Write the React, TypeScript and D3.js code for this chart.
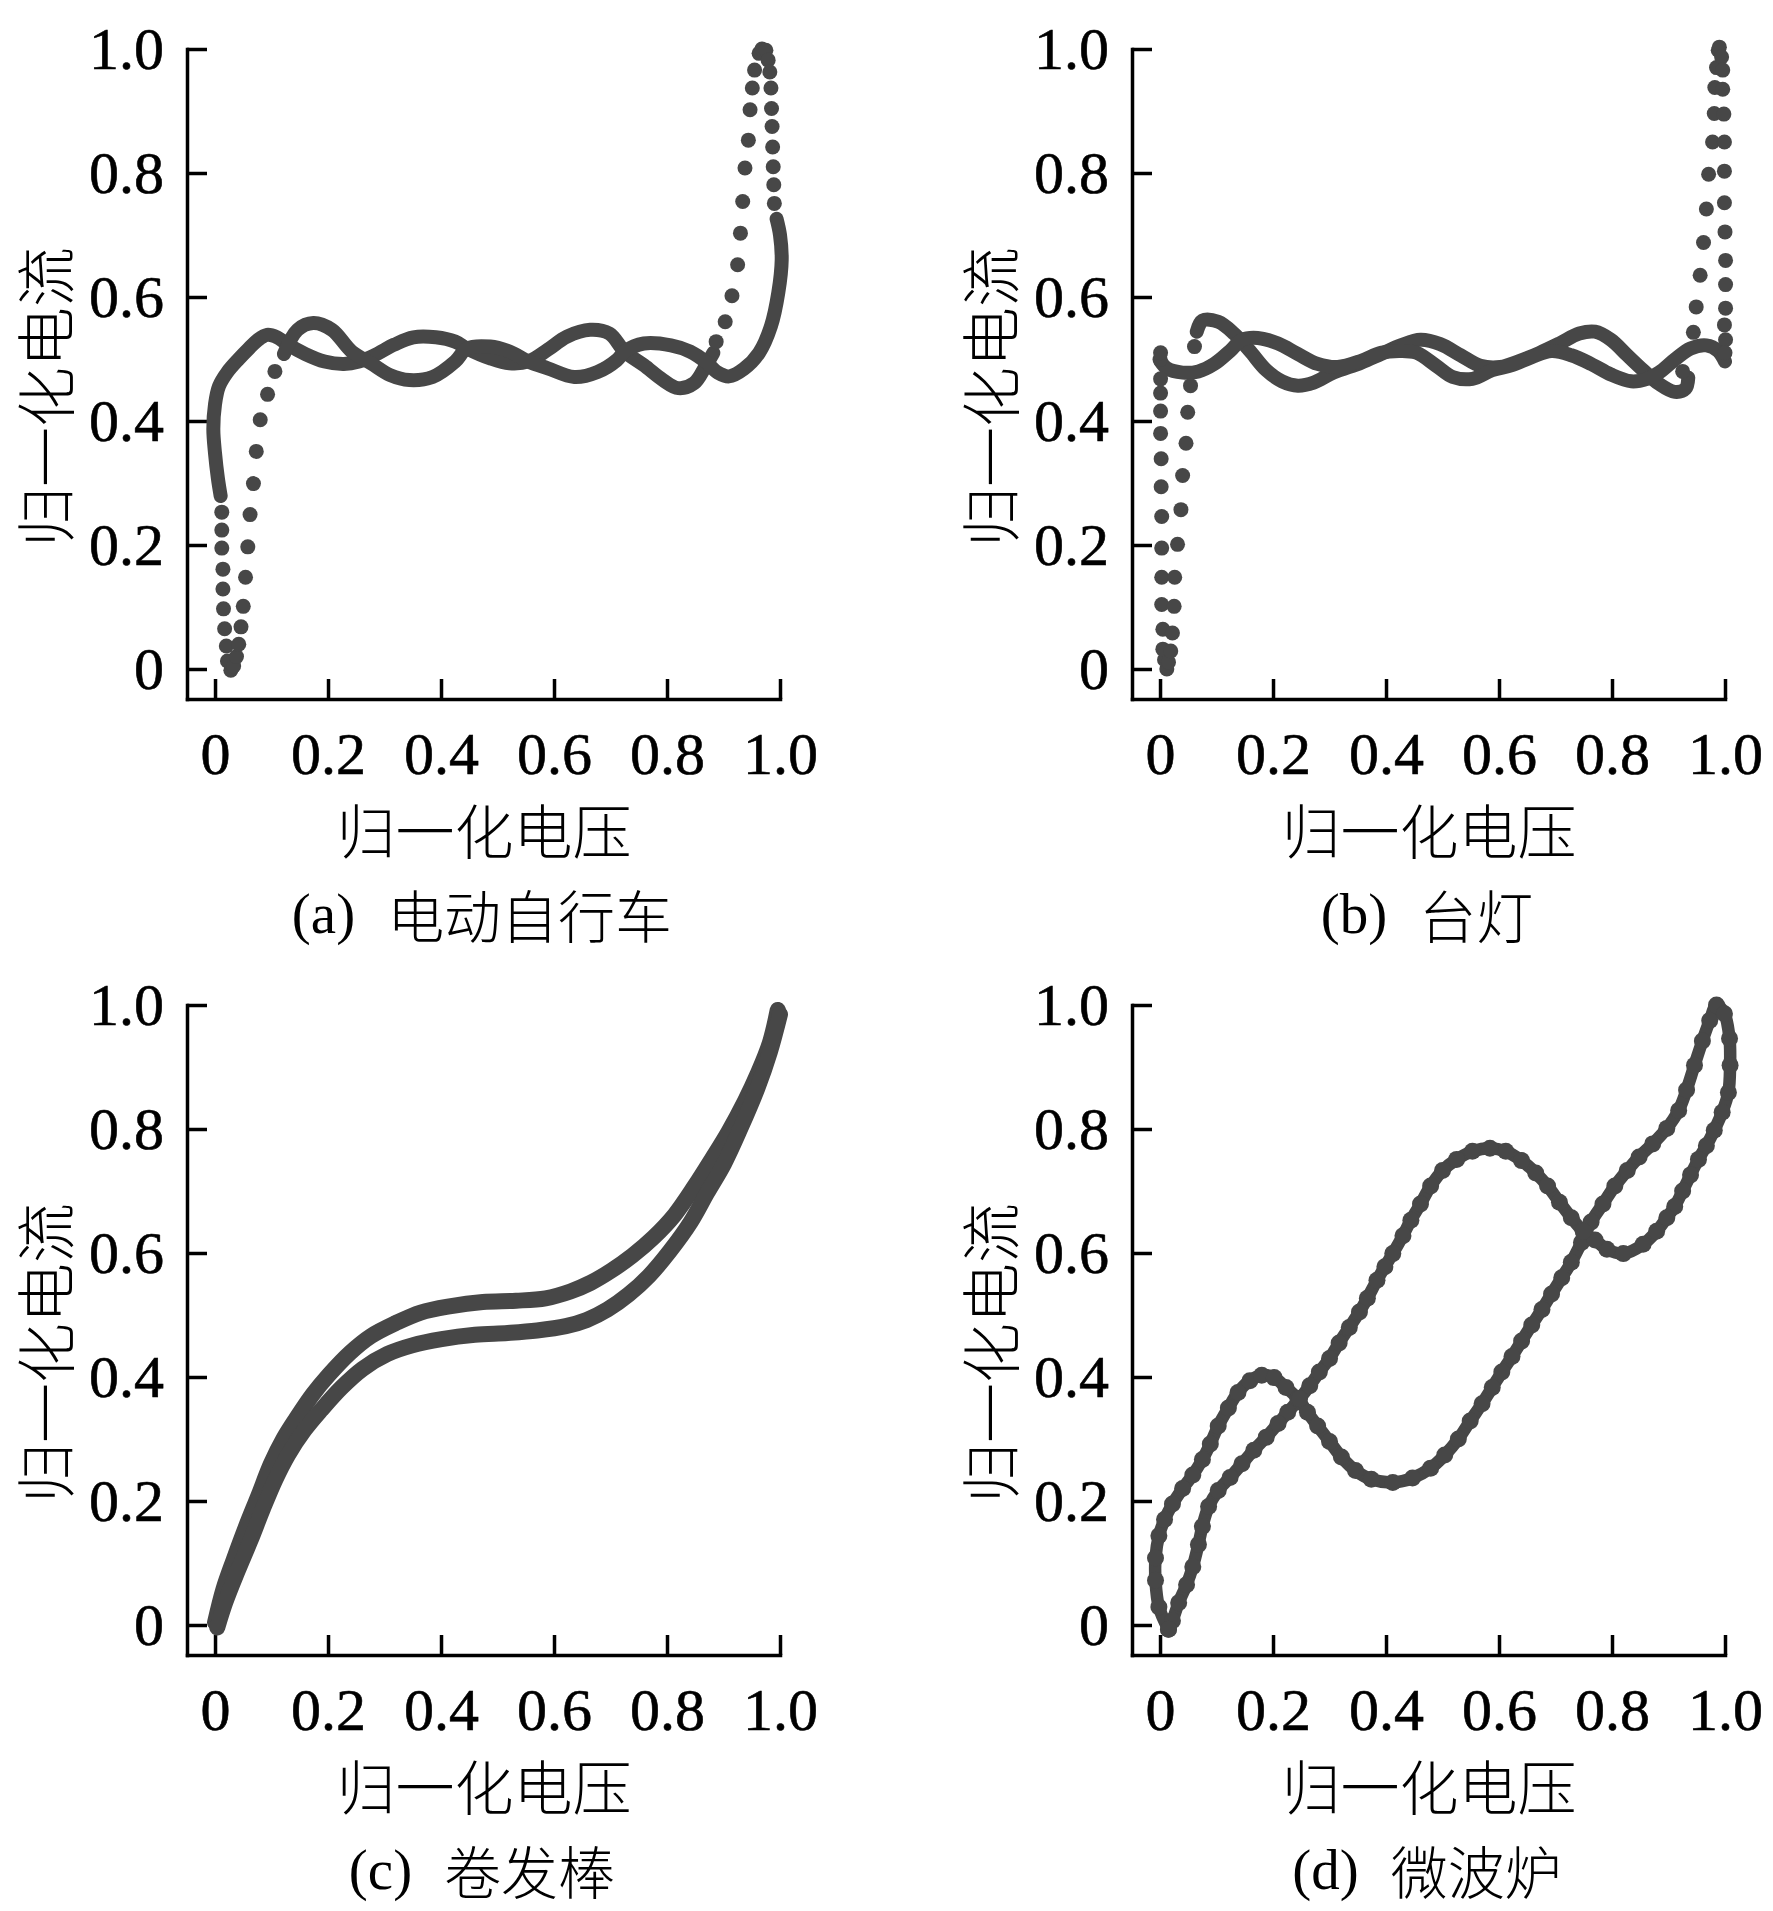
import { useRef, useEffect } from "react";
import * as d3 from "d3";

type Pt = [number, number];

const xTicks = [0, 0.2, 0.4, 0.6, 0.8, 1.0];
const yTicks = [0, 0.2, 0.4, 0.6, 0.8, 1.0];
const xTitle = "归一化电压";
const yTitle = "归一化电流";
const captionTags = ["(a)", "(b)", "(c)", "(d)"];
const captionNames = ["电动自行车", "台灯", "卷发棒", "微波炉"];

// (a) 电动自行车 — dense bands and sparse dot runs
const aBandP: Pt[] = [
  [0.01, 0.279], [0.005, 0.308], [0.0, 0.348], [-0.003, 0.387], [0.0, 0.427], [0.007, 0.456],
  [0.022, 0.479], [0.042, 0.5], [0.06, 0.517], [0.075, 0.53], [0.092, 0.539], [0.11, 0.535],
  [0.126, 0.525], [0.16, 0.508], [0.194, 0.496], [0.228, 0.492], [0.255, 0.496], [0.282, 0.506],
  [0.317, 0.523], [0.351, 0.535], [0.391, 0.535], [0.425, 0.528], [0.446, 0.517], [0.487, 0.501],
  [0.521, 0.493], [0.555, 0.496], [0.589, 0.515], [0.623, 0.536], [0.664, 0.547], [0.698, 0.541],
  [0.725, 0.512], [0.759, 0.49], [0.793, 0.466], [0.82, 0.453], [0.848, 0.461], [0.868, 0.488],
  [0.882, 0.51],
];
const aBandQ: Pt[] = [
  [0.122, 0.508], [0.146, 0.547], [0.174, 0.558], [0.207, 0.547], [0.242, 0.512], [0.276, 0.493],
  [0.31, 0.474], [0.344, 0.466], [0.385, 0.471], [0.425, 0.496], [0.446, 0.517], [0.487, 0.52],
  [0.521, 0.512], [0.555, 0.496], [0.589, 0.485], [0.636, 0.471], [0.677, 0.479], [0.711, 0.498],
  [0.725, 0.512], [0.759, 0.525], [0.807, 0.522], [0.841, 0.512], [0.868, 0.496], [0.89, 0.478],
  [0.91, 0.472], [0.936, 0.484], [0.963, 0.51], [0.984, 0.553], [0.997, 0.607], [1.003, 0.66],
  [1.0, 0.7], [0.994, 0.726],
];
const aDotsInner: Pt[] = [
  [0.028, -0.002], [0.022, 0.013], [0.02, 0.037], [0.017, 0.065], [0.015, 0.097], [0.014, 0.129],
  [0.014, 0.161], [0.012, 0.195], [0.012, 0.224], [0.012, 0.253],
];
const aDotsOuter: Pt[] = [
  [0.033, 0.005], [0.038, 0.02], [0.042, 0.04], [0.046, 0.068], [0.05, 0.101], [0.054, 0.148],
  [0.058, 0.197], [0.062, 0.249], [0.068, 0.299], [0.073, 0.351], [0.08, 0.402], [0.093, 0.443],
  [0.106, 0.48],
];
const aDotsUp: Pt[] = [
  [0.887, 0.528], [0.903, 0.56], [0.915, 0.602], [0.925, 0.652], [0.93, 0.703], [0.934, 0.754],
  [0.938, 0.808], [0.944, 0.853], [0.947, 0.902], [0.951, 0.937], [0.955, 0.966], [0.963, 0.993],
  [0.968, 1.0],
];
const aDotsDown: Pt[] = [
  [0.975, 0.998], [0.979, 0.982], [0.982, 0.963], [0.984, 0.937], [0.985, 0.904], [0.986, 0.875],
  [0.987, 0.842], [0.988, 0.81], [0.989, 0.781], [0.99, 0.751],
];

// (b) 台灯
const bBandU: Pt[] = [
  [0.065, 0.544], [0.075, 0.562], [0.103, 0.56], [0.131, 0.541], [0.159, 0.513], [0.188, 0.482],
  [0.216, 0.464], [0.244, 0.457], [0.272, 0.462], [0.307, 0.478], [0.356, 0.494], [0.391, 0.508],
  [0.426, 0.522], [0.461, 0.531], [0.496, 0.524], [0.532, 0.506], [0.567, 0.489], [0.602, 0.487],
  [0.637, 0.497], [0.672, 0.51], [0.707, 0.525], [0.742, 0.541], [0.77, 0.544], [0.798, 0.531],
  [0.827, 0.506], [0.855, 0.482], [0.883, 0.46], [0.911, 0.447], [0.93, 0.452], [0.935, 0.47],
];
const bBandV: Pt[] = [
  [0.001, 0.496], [0.012, 0.485], [0.04, 0.478], [0.068, 0.48], [0.096, 0.492], [0.124, 0.513],
  [0.145, 0.531], [0.173, 0.534], [0.209, 0.525], [0.244, 0.508], [0.279, 0.492], [0.314, 0.487],
  [0.356, 0.497], [0.391, 0.51], [0.426, 0.513], [0.454, 0.51], [0.489, 0.489], [0.518, 0.471],
  [0.553, 0.468], [0.588, 0.482], [0.623, 0.49], [0.658, 0.503], [0.693, 0.513], [0.728, 0.506],
  [0.763, 0.492], [0.798, 0.475], [0.834, 0.464], [0.862, 0.468], [0.883, 0.478], [0.911, 0.499],
  [0.939, 0.517], [0.967, 0.522], [0.988, 0.513], [1.0, 0.496],
];
const bDotsInner: Pt[] = [
  [0.012, 0.0], [0.008, 0.015], [0.005, 0.032], [0.005, 0.064], [0.003, 0.104], [0.003, 0.148],
  [0.003, 0.195], [0.003, 0.246], [0.002, 0.294], [0.002, 0.339], [0.001, 0.38], [0.001, 0.416],
  [0.001, 0.445], [0.001, 0.468], [0.0, 0.499], [0.001, 0.51],
];
const bDotsOuter: Pt[] = [
  [0.015, 0.011], [0.019, 0.029], [0.022, 0.058], [0.025, 0.101], [0.026, 0.148], [0.031, 0.201],
  [0.037, 0.257], [0.04, 0.312], [0.046, 0.364], [0.049, 0.414], [0.054, 0.457], [0.061, 0.52],
];
const bDotsUp: Pt[] = [
  [0.925, 0.48], [0.944, 0.543], [0.949, 0.584], [0.956, 0.635], [0.962, 0.688], [0.967, 0.742],
  [0.971, 0.798], [0.978, 0.85], [0.981, 0.896], [0.982, 0.938], [0.985, 0.97], [0.988, 0.998],
];
const bDotsDown: Pt[] = [
  [0.99, 1.003], [0.994, 0.987], [0.996, 0.966], [0.996, 0.935], [0.998, 0.895], [0.999, 0.85],
  [0.999, 0.803], [0.999, 0.752], [1.0, 0.705], [1.001, 0.659], [1.001, 0.62], [1.001, 0.582],
  [0.999, 0.555], [1.001, 0.531], [1.0, 0.51],
];

// (c) 卷发棒
const cUpper: Pt[] = [
  [0.0, 0.004], [0.015, 0.058], [0.033, 0.105], [0.055, 0.159], [0.077, 0.209], [0.099, 0.26],
  [0.121, 0.3], [0.143, 0.332], [0.173, 0.372], [0.202, 0.404], [0.239, 0.439], [0.276, 0.466],
  [0.32, 0.487], [0.364, 0.504], [0.415, 0.514], [0.474, 0.521], [0.533, 0.523], [0.585, 0.527],
  [0.629, 0.538], [0.665, 0.552], [0.702, 0.572], [0.739, 0.596], [0.776, 0.625], [0.813, 0.661],
  [0.849, 0.708], [0.879, 0.751], [0.908, 0.794], [0.938, 0.845], [0.96, 0.888], [0.982, 0.939],
  [0.996, 0.992],
];
const cLower: Pt[] = [
  [0.004, -0.004], [0.018, 0.036], [0.04, 0.087], [0.063, 0.137], [0.085, 0.188], [0.107, 0.235],
  [0.129, 0.274], [0.158, 0.314], [0.188, 0.347], [0.224, 0.383], [0.261, 0.413], [0.305, 0.437],
  [0.349, 0.451], [0.401, 0.461], [0.46, 0.468], [0.518, 0.471], [0.57, 0.475], [0.621, 0.482],
  [0.658, 0.492], [0.695, 0.509], [0.732, 0.533], [0.768, 0.563], [0.805, 0.603], [0.842, 0.65],
  [0.871, 0.697], [0.901, 0.744], [0.93, 0.801], [0.96, 0.866], [0.982, 0.924], [1.0, 0.985],
];

// (d) 微波炉 — one closed loop
const dLoop: Pt[] = [
  [0.015, -0.007], [-0.002, 0.029], [-0.008, 0.072], [-0.008, 0.108], [-0.002, 0.144], [0.008, 0.17],
  [0.022, 0.195], [0.04, 0.22], [0.058, 0.242], [0.075, 0.267], [0.089, 0.292], [0.103, 0.321],
  [0.121, 0.35], [0.138, 0.375], [0.159, 0.394], [0.18, 0.403], [0.202, 0.399], [0.223, 0.383],
  [0.244, 0.365], [0.261, 0.343], [0.279, 0.321], [0.3, 0.296], [0.321, 0.271], [0.346, 0.249],
  [0.374, 0.235], [0.412, 0.23], [0.447, 0.237], [0.479, 0.253], [0.504, 0.274], [0.528, 0.3],
  [0.549, 0.329], [0.57, 0.357], [0.588, 0.383], [0.605, 0.408], [0.623, 0.433], [0.64, 0.458],
  [0.658, 0.484], [0.676, 0.509], [0.693, 0.534], [0.711, 0.56], [0.728, 0.585], [0.746, 0.617],
  [0.763, 0.65], [0.784, 0.679], [0.805, 0.708], [0.827, 0.733], [0.848, 0.755], [0.872, 0.776],
  [0.897, 0.801], [0.918, 0.83], [0.932, 0.863], [0.946, 0.903], [0.96, 0.942], [0.973, 0.975],
  [0.985, 1.0], [0.999, 0.986], [1.008, 0.946], [1.009, 0.903], [1.006, 0.859], [0.995, 0.827],
  [0.981, 0.798], [0.967, 0.773], [0.953, 0.751], [0.939, 0.726], [0.925, 0.7], [0.911, 0.675],
  [0.897, 0.657], [0.879, 0.635], [0.855, 0.614], [0.82, 0.599], [0.791, 0.606], [0.77, 0.621],
  [0.749, 0.635], [0.728, 0.657], [0.707, 0.682], [0.686, 0.708], [0.665, 0.729], [0.64, 0.749],
  [0.612, 0.764], [0.584, 0.769], [0.553, 0.764], [0.525, 0.751], [0.5, 0.733], [0.479, 0.708],
  [0.461, 0.679], [0.444, 0.653], [0.43, 0.628], [0.412, 0.599], [0.398, 0.578], [0.384, 0.556],
  [0.367, 0.527], [0.353, 0.505], [0.335, 0.48], [0.317, 0.455], [0.3, 0.43], [0.282, 0.408],
  [0.265, 0.386], [0.247, 0.365], [0.226, 0.343], [0.209, 0.325], [0.188, 0.303], [0.166, 0.282],
  [0.145, 0.26], [0.124, 0.238], [0.103, 0.217], [0.086, 0.191], [0.075, 0.159], [0.068, 0.13],
  [0.058, 0.094], [0.047, 0.065], [0.033, 0.036], [0.022, 0.007], [0.015, -0.007],
];

interface PanelSpec {
  ox: number;
  oy: number;
  bands: Pt[][];
  dots: Pt[][];
  bandWidth: number;
  dotR: number;
}

const panels: PanelSpec[] = [
  { ox: 0, oy: 0, bands: [aBandP, aBandQ], dots: [aDotsInner, aDotsOuter, aDotsUp, aDotsDown], bandWidth: 14, dotR: 7.5 },
  { ox: 945, oy: 0, bands: [bBandU, bBandV], dots: [bDotsInner, bDotsOuter, bDotsUp, bDotsDown], bandWidth: 14, dotR: 7.5 },
  { ox: 0, oy: 956, bands: [cUpper, cLower], dots: [], bandWidth: 16, dotR: 0 },
  { ox: 945, oy: 956, bands: [dLoop], dots: [dLoop], bandWidth: 12.5, dotR: 8.5 },
];

const MARK = "#474747";
const SERIF = "'Liberation Serif', 'Times New Roman', serif";
const CJK = "'Noto Sans CJK SC', sans-serif";

export default function App() {
  const svgRef = useRef<SVGSVGElement>(null);

  useEffect(() => {
    if (!svgRef.current) return;
    const svg = d3.select(svgRef.current);
    svg.selectAll("*").remove();

    panels.forEach((p, i) => {
      const g = svg.append("g");
      const x = d3.scaleLinear().domain([-0.0496, 1]).range([p.ox + 187, p.ox + 780]);
      const y = d3.scaleLinear().domain([-0.0484, 1]).range([p.oy + 699, p.oy + 49]);
      const fmt = (d: d3.NumberValue) => (Number(d) === 0 ? "0" : Number(d).toFixed(1));

      // axes, ticks pointing inward
      const styleAxis = (axis: d3.Selection<SVGGElement, unknown, null, undefined>) => {
        axis.attr("font-family", SERIF).attr("font-size", 60);
        axis.select(".domain").attr("stroke", "#000").attr("stroke-width", 3.5).attr("stroke-linecap", "square");
        axis.selectAll(".tick line").attr("stroke", "#000").attr("stroke-width", 3.5);
        axis.selectAll(".tick text").attr("fill", "#000").attr("stroke", "#000").attr("stroke-width", 0.6);
      };
      g.append("g")
        .attr("transform", `translate(0,${p.oy + 699})`)
        .call(d3.axisBottom(x).tickValues(xTicks).tickSizeInner(-20).tickSizeOuter(0).tickPadding(32).tickFormat(fmt))
        .call(styleAxis);
      g.append("g")
        .attr("transform", `translate(${p.ox + 187},0)`)
        .call(d3.axisLeft(y).tickValues(yTicks).tickSizeInner(-20).tickSizeOuter(0).tickPadding(23).tickFormat(fmt))
        .call(styleAxis);

      // marks
      const line = d3
        .line<Pt>()
        .x((d) => x(d[0]))
        .y((d) => y(d[1]))
        .curve(d3.curveCatmullRom.alpha(0.5));
      p.bands.forEach((band) => {
        g.append("path")
          .datum(band)
          .attr("fill", "none")
          .attr("stroke", MARK)
          .attr("stroke-width", p.bandWidth)
          .attr("stroke-linecap", "round")
          .attr("stroke-linejoin", "round")
          .attr("d", line);
      });
      p.dots.forEach((run) => {
        g.selectAll(null)
          .data(run)
          .join("circle")
          .attr("cx", (d) => x(d[0]))
          .attr("cy", (d) => y(d[1]))
          .attr("r", p.dotR)
          .attr("fill", MARK);
      });

      // titles
      g.append("text")
        .attr("x", p.ox + 484)
        .attr("y", p.oy + 828)
        .attr("text-anchor", "middle")
        .attr("dominant-baseline", "central")
        .attr("font-family", CJK)
        .attr("font-weight", 300)
        .attr("font-size", 59)
        .attr("fill", "#000")
        .text(xTitle);
      g.append("text")
        .attr("transform", `translate(${p.ox + 42},${p.oy + 397}) rotate(-90)`)
        .attr("text-anchor", "middle")
        .attr("dominant-baseline", "central")
        .attr("font-family", CJK)
        .attr("font-weight", 300)
        .attr("font-size", 60)
        .attr("fill", "#000")
        .text(yTitle);

      const cap = g
        .append("text")
        .attr("x", p.ox + 482)
        .attr("y", p.oy + 913)
        .attr("text-anchor", "middle")
        .attr("dominant-baseline", "central")
        .attr("fill", "#000")
        .attr("font-size", 57);
      cap.append("tspan").attr("font-family", SERIF).text(captionTags[i]);
      cap.append("tspan").attr("font-family", CJK).attr("font-weight", 300).attr("dx", 32).text(captionNames[i]);
    });
  }, []);

  return (
    <svg
      ref={svgRef}
      width={1773}
      height={1911}
      style={{ position: "absolute", left: 0, top: 0, background: "#fff", display: "block" }}
    />
  );
}
